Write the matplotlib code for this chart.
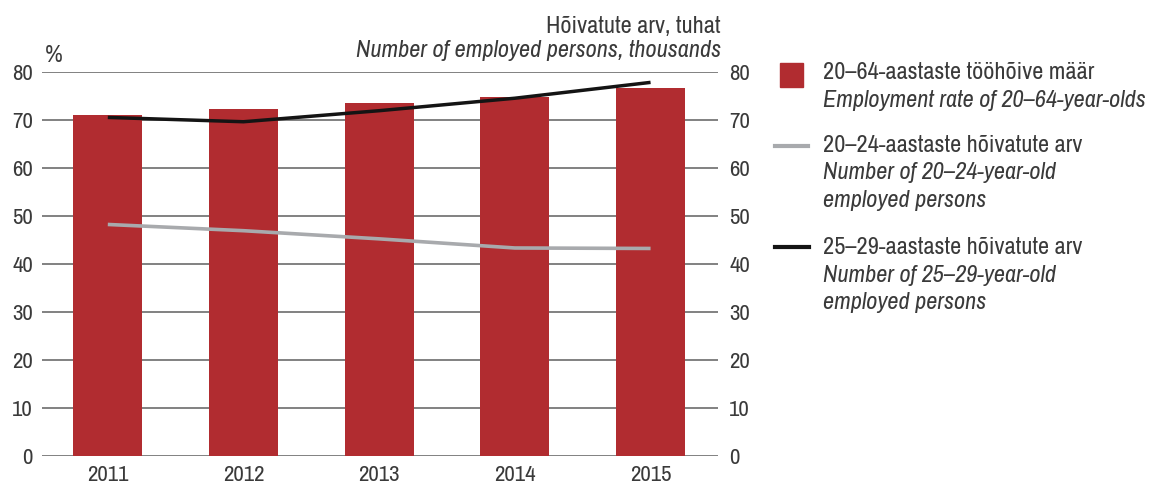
import matplotlib
matplotlib.use('Agg')
import matplotlib.pyplot as plt
from matplotlib import font_manager
from matplotlib.patches import Rectangle
from matplotlib.lines import Line2D

years = ['2011', '2012', '2013', '2014', '2015']
employment_rate = [71.0, 72.4, 73.5, 74.8, 76.7]       # %, 20-64
employed_20_24 = [48.3, 47.0, 45.3, 43.4, 43.3]        # thousands
employed_25_29 = [70.6, 69.7, 72.0, 74.6, 77.9]        # thousands
yticks = [0, 10, 20, 30, 40, 50, 60, 70, 80]

# the original uses a condensed sans; use a narrow face when there is one
installed = {f.name for f in font_manager.fontManager.ttflist}
if 'Archivo Narrow' in installed:
    FAMILY, FS, TICK_FS = 'Archivo Narrow', 17.5, 16.5
else:
    FAMILY, FS, TICK_FS = 'Liberation Sans', 14.5, 14.5
plt.rcParams['font.family'] = [FAMILY, 'DejaVu Sans']
plt.rcParams['font.size'] = FS
TXT = '#3a3a3a'
BAR = '#b12c30'
GRAY = '#a8aaad'
BLACK = '#141414'

W, H = 1168, 490
fig = plt.figure(figsize=(W / 100, H / 100), dpi=100)


def fx(x):
    return x / W


def fy(y):
    return 1 - y / H


left, right, top, bottom = 42, 718, 72.3, 456.3
ax = fig.add_axes([fx(left), fy(bottom), fx(right - left), (bottom - top) / H])

x = list(range(len(years)))
ax.bar(x, employment_rate, width=0.51, color=BAR, zorder=2)
ax.set_xlim(-0.485, 4.497)
ax.set_ylim(0, 80)
ax.set_yticks(yticks)
ax.set_xticks(x)
ax.set_xticklabels(years)
ax.set_axisbelow(True)
ax.yaxis.grid(True, color='#777777', lw=1.3, zorder=0)
ax.tick_params(axis='y', length=0, pad=6.5, colors=TXT, labelsize=TICK_FS)
ax.tick_params(axis='x', length=0, pad=6, colors=TXT, labelsize=TICK_FS)
for s in ax.spines.values():
    s.set_visible(False)

ax2 = ax.twinx()
ax2.plot(x, employed_20_24, color=GRAY, lw=2.6, solid_capstyle='butt', zorder=3)
ax2.plot(x, employed_25_29, color=BLACK, lw=2.5, solid_capstyle='butt', zorder=3)
ax2.set_ylim(0, 80)
ax2.set_yticks(yticks)
ax2.tick_params(axis='y', length=0, pad=8, colors=TXT, labelsize=TICK_FS)
for s in ax2.spines.values():
    s.set_visible(False)

# axis titles
fig.text(fx(45), fy(62), '%', color=TXT, fontsize=FS, va='baseline', ha='left')
fig.text(fx(721), fy(33), 'Hõivatute arv, tuhat', color=TXT, fontsize=FS,
         va='baseline', ha='right')
fig.text(fx(721), fy(57), 'Number of employed persons, thousands', color=TXT,
         fontsize=FS, style='italic', va='baseline', ha='right')

# legend, drawn by hand
fig.add_artist(Rectangle((fx(780), fy(87)), fx(23), 24 / H, color=BAR,
                         transform=fig.transFigure))
fig.add_artist(Line2D([fx(775), fx(808)], [fy(146), fy(146)], color=GRAY, lw=3,
                      transform=fig.transFigure))
fig.add_artist(Line2D([fx(775), fx(809)], [fy(247.5), fy(247.5)], color=BLACK, lw=3,
                      transform=fig.transFigure))

entries = [
    (79.3, ['20–64-aastaste tööhõive määr', 'Employment rate of 20–64-year-olds']),
    (151.7, ['20–24-aastaste hõivatute arv', 'Number of 20–24-year-old', 'employed persons']),
    (254.3, ['25–29-aastaste hõivatute arv', 'Number of 25–29-year-old', 'employed persons']),
]
for y0, lines in entries:
    for i, line in enumerate(lines):
        fig.text(fx(823), fy(y0 + i * 27.5), line, color=TXT, fontsize=FS,
                 style='normal' if i == 0 else 'italic', va='baseline', ha='left')

fig.savefig('out.png', dpi=100)
